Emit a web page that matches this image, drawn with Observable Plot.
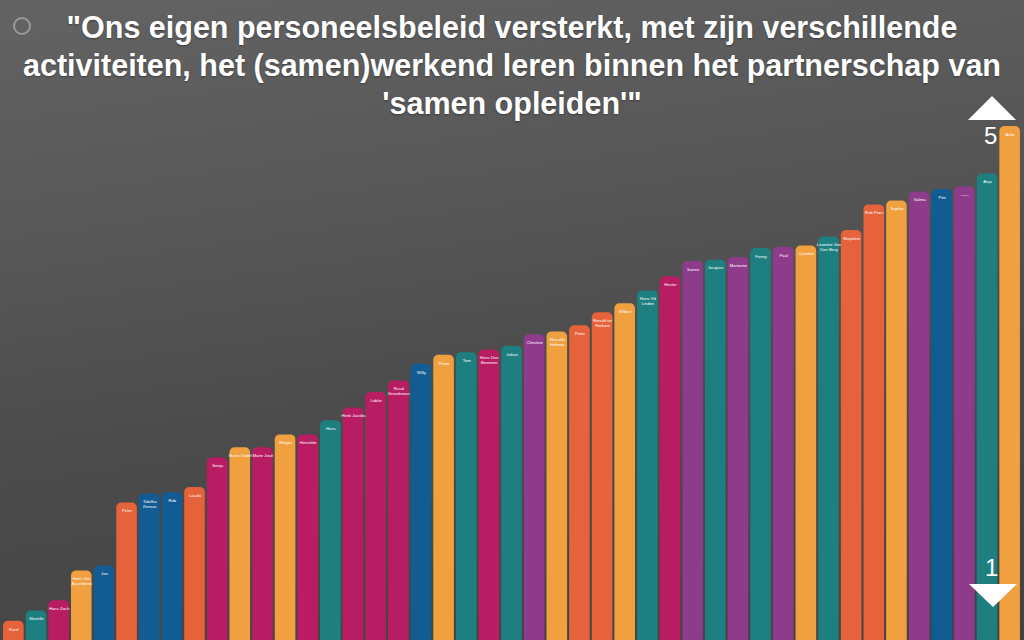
<!DOCTYPE html>
<html>
<head>
<meta charset="utf-8">
<script src="https://cdn.jsdelivr.net/npm/d3@7"></script>
<script src="https://cdn.jsdelivr.net/npm/@observablehq/plot@0.6"></script>
<style>
  html, body { margin: 0; padding: 0; }
  #stage {
    position: relative; width: 1024px; height: 640px; overflow: hidden;
    background: linear-gradient(172deg, #636363 0%, #585858 30%, #4b4b4b 60%, #424242 100%);
    font-family: "Liberation Sans", Arial, sans-serif;
  }
  #chart { position: absolute; left: 0; top: 0; }
  #title {
    position: absolute; left: 0; top: 8px; width: 1024px; text-align: center;
    color: #fff; font-weight: bold; font-size: 30.5px; line-height: 38px;
    text-shadow: 0 1px 2px rgba(0,0,0,0.35);
  }
  #ring {
    position: absolute; left: 13px; top: 17px; width: 18px; height: 18px;
    border: 2px solid #9a9a9a; border-radius: 50%; box-sizing: border-box;
  }
  .tri-up { position: absolute; left: 968px; top: 96px; width: 0; height: 0;
    border-left: 24px solid transparent; border-right: 24px solid transparent; border-bottom: 24px solid #fff; }
  .tri-down { position: absolute; left: 969px; top: 584px; width: 0; height: 0;
    border-left: 24px solid transparent; border-right: 24px solid transparent; border-top: 23px solid #fff; }
  .lvl { position: absolute; color: #fff; font-family: "Liberation Sans", Arial, sans-serif; font-size: 24px; font-weight: 300; }
</style>
</head>
<body>
<div id="stage">
  <div id="chart"></div>
  <div id="ring"></div>
  <div id="title">"Ons eigen personeelsbeleid versterkt, met zijn verschillende<br>activiteiten, het (samen)werkend leren binnen het partnerschap van<br>'samen opleiden'"</div>
  <div class="tri-up"></div>
  <div class="lvl" style="left:984px; top:122px;">5</div>
  <div class="lvl" style="left:985px; top:554px;">1</div>
  <div class="tri-down"></div>
</div>
<script>
const names = [
  "Karel", "Mariëlle", "Hans Zoch", "Hans Van\nAssenbrink", "Jan", "Peter", "Tabitha\nZeneas", "Rob", "Laszlo",
  "Sonja", "Marie-Ondel", "Marie José", "Wieger", "Henriëtte", "Hans", "Henk Jacobs", "Lobke", "Ruud\nGrondsman",
  "Willy", "Pieter", "Tom", "Hans Den\nBezemer", "Johan", "Christine", "Marcella\nHofman", "Petra", "Ronald ter\nHarkam",
  "Wilbert", "Hans Vd\nLinden", "Hester", "Sanne", "Jacques", "Marianne", "Fanny", "Paul", "Carolien",
  "Leontine Van\nDen Berg", "Marjolein", "Rob Pans", "Sophie", "Salma", "Pim", "——", "Anja", "Anke"
];
const scores = [
  1.15, 1.23, 1.31, 1.54, 1.58, 2.07, 2.14, 2.15, 2.19,
  2.42, 2.50, 2.50, 2.60, 2.60, 2.71, 2.81, 2.93, 3.02,
  3.15, 3.22, 3.24, 3.26, 3.29, 3.38, 3.40, 3.45, 3.55,
  3.62, 3.72, 3.83, 3.95, 3.96, 3.98, 4.05, 4.06, 4.07,
  4.14, 4.19, 4.39, 4.42, 4.49, 4.51, 4.53, 4.63, 5.00
];
const groups = [
  "rood", "teal", "magenta", "oranje", "blauw", "rood", "blauw", "blauw", "rood",
  "magenta", "oranje", "magenta", "oranje", "magenta", "teal", "magenta", "magenta", "magenta",
  "blauw", "oranje", "teal", "magenta", "teal", "paars", "oranje", "rood", "rood",
  "oranje", "teal", "magenta", "paars", "teal", "paars", "teal", "paars", "oranje",
  "teal", "rood", "rood", "oranje", "paars", "blauw", "paars", "teal", "oranje"
];
const groupKeys = ["rood", "teal", "magenta", "oranje", "blauw", "paars"];
const groupColors = ["#e6623a", "#1d7f80", "#b81d63", "#f0a03f", "#135b93", "#8e3b8c"];
const scaleMin = 1, scaleMax = 5;

const data = names.map((n, i) => ({ name: n, score: scores[i], group: groups[i] }));

const chart = Plot.plot({
  width: 1024,
  height: 640,
  marginTop: 126,
  marginBottom: 0,
  marginLeft: 1,
  marginRight: 2,
  style: { background: "transparent", overflow: "visible" },
  x: { domain: names, padding: 0.09, round: false, axis: null },
  y: { domain: [scaleMin, scaleMax], axis: null },
  color: { domain: groupKeys, range: groupColors },
  marks: [
    Plot.barY(data, {
      x: "name", y1: scaleMin - 0.1, y2: "score", fill: "group", rx: 5, clip: true
    }),
    Plot.text(data, {
      x: "name", y: "score", text: "name", fill: "#fff", fontSize: 4.2,
      dy: 6, lineAnchor: "top", fontFamily: "Liberation Sans, Arial, sans-serif", lineHeight: 1.1
    })
  ]
});
document.getElementById("chart").appendChild(chart);
</script>
</body>
</html>
